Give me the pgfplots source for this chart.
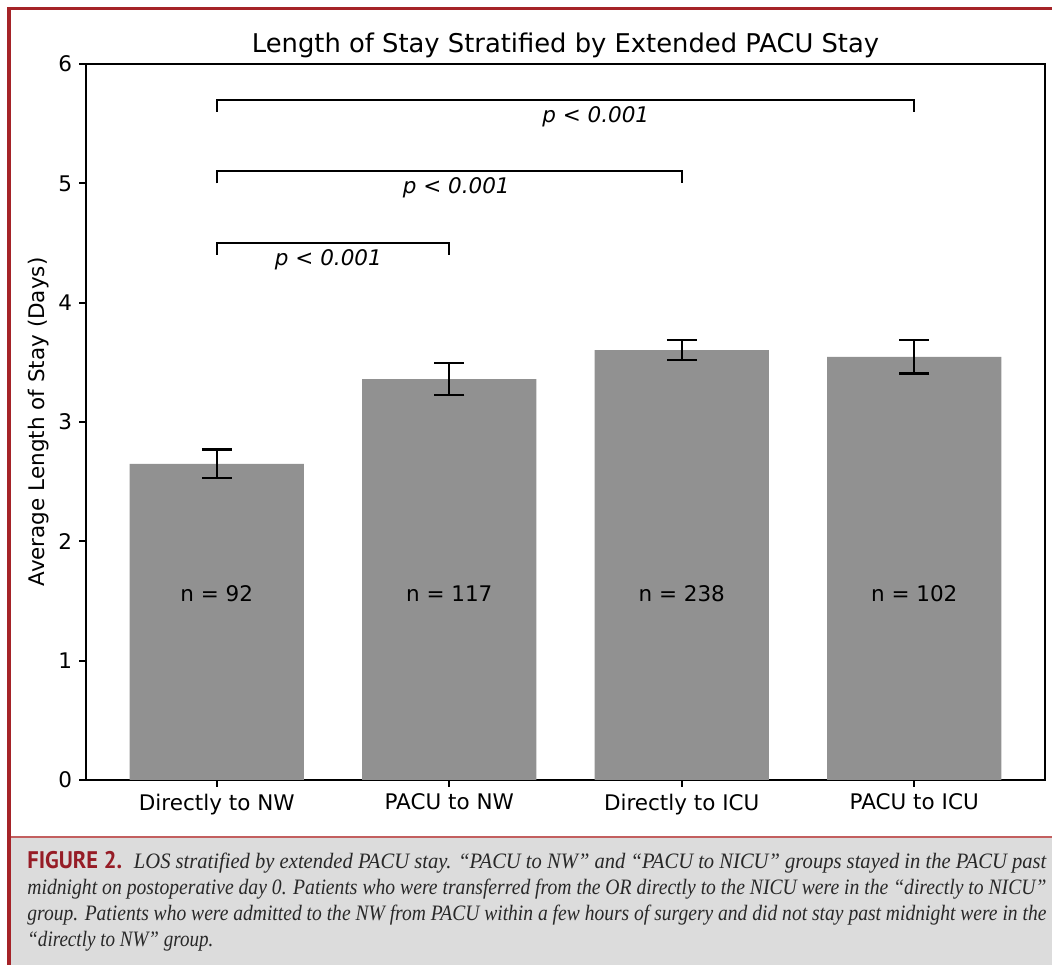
\documentclass[border=0pt]{standalone}
\usepackage{pgfplots}
\usepackage{pgfplotstable}
\pgfplotsset{compat=1.18}
\usepackage{fontspec}
\setmainfont{DejaVu Sans}
\newfontfamily\capfont{Liberation Serif}
\newfontfamily\figfont{PT Sans}
\definecolor{barg}{RGB}{145,145,145}
\definecolor{frame}{RGB}{165,35,40}
\definecolor{capline}{RGB}{195,95,95}
\definecolor{capbg}{RGB}{220,220,220}
\definecolor{figred}{RGB}{150,28,38}
\definecolor{captext}{RGB}{40,40,40}
\pgfplotstableread{
x y e
0 2.650 0.120
1 3.360 0.135
2 3.603 0.085
3 3.545 0.140
}\losdata
\newcommand{\tfont}{\fontsize{10.75bp}{12.5bp}\selectfont}
\newcommand{\cfont}{\capfont\itshape\fontsize{11bp}{13bp}\selectfont}
\begin{document}
\begin{tikzpicture}[x=0.5bp,y=0.5bp]
\path[use as bounding box] (0,0) rectangle (1052,965);
\fill[capbg] (10,0) rectangle (1052,127);
\draw[capline, line width=1bp] (10,128) -- (1052,128);
\draw[frame, line width=1.5bp] (9,0) -- (9,956) -- (1052,956);
\begin{axis}[
  at={(43bp,92.5bp)}, anchor=south west,
  width=479.5bp, height=358bp, scale only axis,
  xmin=-0.5625, xmax=3.5625, ymin=0, ymax=6,
  ybar, bar width=0.75,
  xtick={0,1,2,3},
  xticklabels={Directly to NW, PACU to NW, Directly to ICU, PACU to ICU},
  ytick={0,1,2,3,4,5,6},
  xtick pos=lower, ytick pos=left,
  tick align=outside, major tick length=3.5bp,
  axis line style={line width=0.85bp},
  tick style={line width=0.85bp, black},
  tick label style={font=\tfont},
  /pgf/number format/assume math mode=true,
  ylabel={Average Length of Stay (Days)},
  ylabel style={font=\tfont},
  ylabel shift={-2bp},
  title={Length of Stay Stratified by Extended PACU Stay},
  title style={font=\fontsize{12.9bp}{15bp}\selectfont, yshift=-6.5bp},
]
\addplot[fill=barg, draw=none,
  error bars/.cd, y dir=both, y explicit,
  error bar style={line width=1.2bp, black},
  error mark options={rotate=90, mark size=7.5bp, line width=1.2bp, black}]
  table[x=x, y=y, y error=e] {\losdata};
% significance brackets
\draw[line width=1bp] (axis cs:0,4.40) -- (axis cs:0,4.50) -- (axis cs:1,4.50) -- (axis cs:1,4.40);
\draw[line width=1bp] (axis cs:0,5.00) -- (axis cs:0,5.10) -- (axis cs:2,5.10) -- (axis cs:2,5.00);
\draw[line width=1bp] (axis cs:0,5.60) -- (axis cs:0,5.70) -- (axis cs:3,5.70) -- (axis cs:3,5.60);
\node[font=\tfont\itshape] at (axis cs:0.48,4.36) {p < 0.001};
\node[font=\tfont\itshape] at (axis cs:1.03,4.96) {p < 0.001};
\node[font=\tfont\itshape] at (axis cs:1.63,5.56) {p < 0.001};
\node[font=\tfont] at (axis cs:0,1.56) {n = 92};
\node[font=\tfont] at (axis cs:1,1.56) {n = 117};
\node[font=\tfont] at (axis cs:2,1.56) {n = 238};
\node[font=\tfont] at (axis cs:3,1.56) {n = 102};
\end{axis}
\begin{scope}[every node/.style={inner sep=0pt, anchor=base west, text=captext}]
\node at (27,96) {\resizebox{509.5bp}{\height}{{\figfont\bfseries\fontsize{12bp}{13bp}\selectfont\color{figred}FIGURE 2.}\ \ {\cfont LOS stratified by extended PACU stay. “PACU to NW” and “PACU to NICU” groups stayed in the PACU past}}};
\node at (27,70) {\resizebox{509.5bp}{\height}{\cfont midnight on postoperative day 0. Patients who were transferred from the OR directly to the NICU were in the “directly to NICU”}};
\node at (27,44) {\resizebox{509.5bp}{\height}{\cfont group. Patients who were admitted to the NW from PACU within a few hours of surgery and did not stay past midnight were in the}};
\node at (27,18) {\resizebox{93bp}{\height}{\cfont “directly to NW” group.}};
\end{scope}
\end{tikzpicture}
\end{document}
